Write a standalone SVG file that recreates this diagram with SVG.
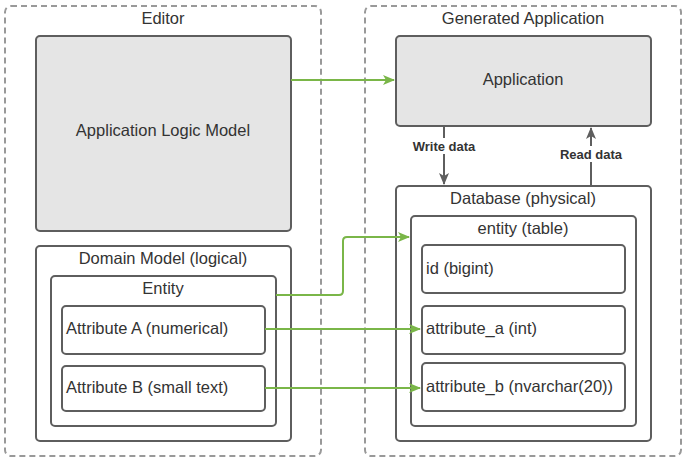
<svg xmlns="http://www.w3.org/2000/svg" width="687" height="466" viewBox="0 0 687 466">
<defs>
<style>
.dash{fill:#fff;stroke:#999;stroke-width:2;stroke-dasharray:6,4}
.box{fill:#fff;stroke:#5e5e5e;stroke-width:2}
.grey{fill:#e5e5e5;stroke:#5e5e5e;stroke-width:2}
text{font-family:"Liberation Sans",Arial,sans-serif;font-size:16.5px;fill:#333}
.c{text-anchor:middle}
.lbl{font-size:13px;font-weight:bold;text-anchor:middle}
.g{fill:none;stroke:#7ab648;stroke-width:2}
.k{fill:none;stroke:#5e5e5e;stroke-width:2}
</style>
<marker id="ag" viewBox="0 0 12 10" refX="11" refY="5" markerWidth="12" markerHeight="10" markerUnits="userSpaceOnUse" orient="auto"><path d="M0,0 L12,5 L0,10 L3,5 Z" fill="#7ab648"/></marker>
<marker id="ak" viewBox="0 0 12 10" refX="11" refY="5" markerWidth="12" markerHeight="10" markerUnits="userSpaceOnUse" orient="auto"><path d="M0,0 L12,5 L0,10 L3,5 Z" fill="#5e5e5e"/></marker>
</defs>
<g id="editor"><rect class="dash" x="5" y="6" width="316" height="450" rx="6"/><text class="c" x="163" y="24">Editor</text></g>
<g id="generated-application"><rect class="dash" x="365" y="6" width="316" height="450" rx="6"/><text class="c" x="523" y="24">Generated Application</text></g>
<g id="app-logic-model"><rect class="grey" x="36" y="36" width="255" height="195" rx="4"/><text class="c" x="163" y="136">Application Logic Model</text></g>
<g id="domain-model"><rect class="box" x="36" y="246" width="255" height="195" rx="4"/><text class="c" x="163" y="264">Domain Model (logical)</text></g>
<g id="entity"><rect class="box" x="51" y="276" width="225" height="150" rx="4"/><text class="c" x="163" y="294">Entity</text></g>
<g id="attribute-a"><rect class="box" x="62" y="306" width="203" height="48" rx="4"/><text x="66" y="334">Attribute A (numerical)</text></g>
<g id="attribute-b"><rect class="box" x="62" y="366" width="203" height="45" rx="4"/><text x="66" y="393">Attribute B (small text)</text></g>
<g id="application"><rect class="grey" x="396" y="36" width="255" height="90" rx="4"/><text class="c" x="523" y="85">Application</text></g>
<g id="database"><rect class="box" x="396" y="186" width="255" height="255" rx="4"/><text class="c" x="523" y="204">Database (physical)</text></g>
<g id="entity-table"><rect class="box" x="411" y="216" width="225" height="210" rx="4"/><text class="c" x="523" y="234">entity (table)</text></g>
<g id="id-col"><rect class="box" x="422" y="245" width="203" height="48" rx="4"/><text x="426" y="274">id (bigint)</text></g>
<g id="attribute-a-col"><rect class="box" x="422" y="306" width="203" height="48" rx="4"/><text x="426" y="334">attribute_a (int)</text></g>
<g id="attribute-b-col"><rect class="box" x="422" y="363" width="203" height="48" rx="4"/><text x="426" y="392">attribute_b (nvarchar(20))</text></g>
<g id="connectors">
<path class="g" d="M291,80 H394" marker-end="url(#ag)"/>
<path class="g" d="M276,295 H339 Q343,295 343,291 V241 Q343,237 347,237 H409" marker-end="url(#ag)"/>
<path class="g" d="M265,329 H420" marker-end="url(#ag)"/>
<path class="g" d="M265,388 H420" marker-end="url(#ag)"/>
<path class="k" d="M444,127 V184" marker-end="url(#ak)"/>
<path class="k" d="M591,185 V128" marker-end="url(#ak)"/>
<rect x="409" y="138" width="70" height="16" fill="#fff"/>
<text class="lbl" x="444" y="151">Write data</text>
<rect x="556" y="146" width="70" height="16" fill="#fff"/>
<text class="lbl" x="591" y="159">Read data</text>
</g>
</svg>
